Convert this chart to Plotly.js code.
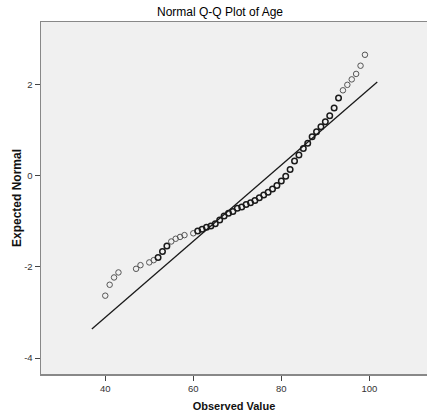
<!DOCTYPE html>
<html>
<head>
<meta charset="utf-8">
<script src="https://cdn.plot.ly/plotly-3.0.1.min.js"></script>
<style>html,body{margin:0;padding:0;background:#fff;}#chart{width:427px;height:420px;}</style>
</head>
<body>
<div id="chart"></div>
<script>
// Observed ages (distinct values) and their expected normal quantiles
const observed = [40,41,42,43,47,48,50,51,52,53,54,55,56,57,58,60,61,62,63,64,65,66,67,68,69,
  70,71,72,73,74,75,76,77,78,79,80,81,82,83,84,85,86,87,88,89,90,91,92,93,94,95,96,97,98,99];
const expected = [-2.63,-2.39,-2.23,-2.12,-2.04,-1.96,-1.90,-1.85,-1.79,-1.66,-1.54,-1.44,-1.38,-1.34,-1.30,
  -1.26,-1.21,-1.17,-1.13,-1.10,-1.05,-0.97,-0.88,-0.82,-0.78,
  -0.71,-0.68,-0.63,-0.59,-0.54,-0.48,-0.42,-0.36,-0.29,-0.21,-0.11,-0.01,0.14,0.33,0.46,
  0.60,0.72,0.86,0.97,1.08,1.19,1.32,1.49,1.71,1.88,2.00,2.12,2.24,2.42,2.66];
// approximate number of cases at each value (bolder rings = ties)
const caseCount = [1,1,1,1,1,1,1,1,2,2,2,1,1,1,1,
  1,2,2,2,2,2,2,2,2,2,
  2,2,2,2,2,2,2,2,2,2,2,2,2,2,2,
  2,2,2,2,2,2,2,2,2,1,1,1,1,1,1];
// reference line end points
const refLineX = [36.95, 101.8];
const refLineY = [-3.36, 2.06];
const xTicks = [40, 60, 80, 100];
const yTicks = [-4, -2, 0, 2];

const lineWidths = caseCount.map(c => c > 1 ? 1.5 : 1);
const lineColors = caseCount.map(c => c > 1 ? '#1a1a1a' : '#555555');

const traces = [
  {
    x: refLineX, y: refLineY, type: 'scatter', mode: 'lines',
    line: {color: '#1a1a1a', width: 1.3}, hoverinfo: 'skip', showlegend: false
  },
  {
    x: observed, y: expected, type: 'scatter', mode: 'markers',
    marker: {symbol: 'circle-open', size: 5.5, color: lineColors,
      line: {width: lineWidths, color: lineColors}},
    showlegend: false
  }
];

const tickFont = {family: 'Arial, "Liberation Sans", sans-serif', size: 9.5, color: '#333'};

const layout = {
  width: 427, height: 420,
  margin: {l: 41, r: 0, t: 22, b: 46, pad: 0},
  paper_bgcolor: '#ffffff',
  plot_bgcolor: '#f0f0f0',
  title: {
    text: 'Normal Q-Q Plot of Age',
    font: {family: 'Arial, "Liberation Sans", sans-serif', size: 12, color: '#000'},
    xref: 'container', x: 220/427, xanchor: 'center',
    yref: 'container', y: 1 - 12/420, yanchor: 'middle'
  },
  xaxis: {
    range: [25.4, 113.1],
    tickvals: xTicks, ticktext: xTicks.map(String),
    ticks: 'outside', ticklen: 5, tickwidth: 1, tickcolor: '#444',
    showgrid: false, zeroline: false,
    showline: true, linecolor: '#888', linewidth: 1.5, mirror: true,
    tickfont: tickFont,
    title: {text: 'Observed Value', standoff: 9,
      font: {family: 'Arial, "Liberation Sans", sans-serif', size: 11, color: '#111', weight: 'bold'}}
  },
  yaxis: {
    range: [-4.35, 3.38],
    tickvals: yTicks, ticktext: yTicks.map(String),
    ticks: 'outside', ticklen: 5, tickwidth: 1, tickcolor: '#444',
    showgrid: false, zeroline: false,
    showline: true, linecolor: '#888', linewidth: 1.5, mirror: false,
    tickfont: tickFont,
    title: {text: 'Expected Normal', standoff: 0,
      font: {family: 'Arial, "Liberation Sans", sans-serif', size: 12, color: '#111', weight: 'bold'}}
  }
};

Plotly.newPlot('chart', traces, layout, {displayModeBar: false, staticPlot: true});
</script>
</body>
</html>
